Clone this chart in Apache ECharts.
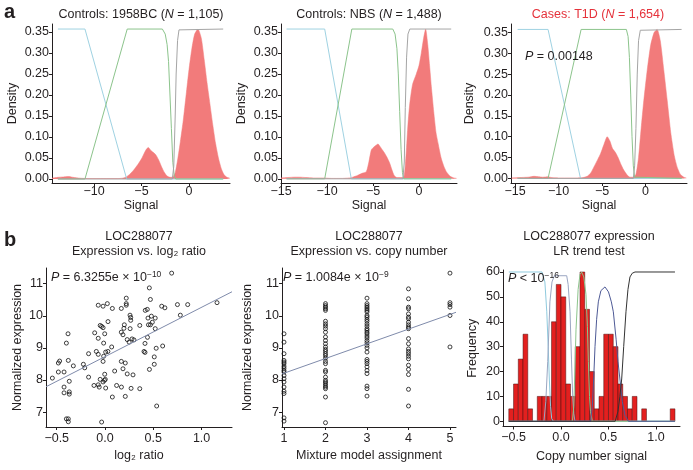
<!DOCTYPE html>
<html><head><meta charset="utf-8">
<script src="https://cdn.jsdelivr.net/npm/echarts@6/dist/echarts.min.js"></script>
<style>html,body{margin:0;padding:0;background:#fff}#c{width:693px;height:470px}</style>
</head><body><div id="c"></div>
<script>
// ---------- Panel a: density of signal + posterior curves ----------
const densA1 = [[-14.4,0.002],[-13.8,0.004],[-13.2,0.005],[-12.7,0.006],[-12.2,0.004],[-11.5,0.002],[-10.5,0.001],[-9,0.001],[-7.5,0.001],[-7,0.002],[-6.6,0.005],[-6.2,0.012],[-5.8,0.022],[-5.4,0.034],[-5.0,0.048],[-4.7,0.062],[-4.45,0.072],[-4.28,0.075],[-4.05,0.069],[-3.8,0.064],[-3.5,0.058],[-3.2,0.046],[-2.9,0.03],[-2.6,0.016],[-2.3,0.007],[-2.0,0.004],[-1.7,0.005],[-1.45,0.015],[-1.2,0.045],[-0.9,0.09],[-0.6,0.14],[-0.3,0.2],[0.0,0.26],[0.3,0.31],[0.6,0.345],[0.95,0.357],[1.3,0.335],[1.6,0.285],[1.9,0.23],[2.2,0.18],[2.5,0.13],[2.8,0.085],[3.1,0.05],[3.4,0.025],[3.7,0.01],[4.0,0.004],[4.3,0.002]];
const blueA1 = [[-13.8,0.357],[-10.95,0.357],[-6.56,0],[3.6,0]];
const greenA1 = [[-13.8,0],[-10.95,0],[-6.5,0.357],[-2.8,0.357],[-2.5,0.345],[-2.3,0.32],[-2.15,0.28],[-2.0,0.2],[-1.85,0.12],[-1.7,0.04],[-1.55,0.008],[-1.4,0],[3.6,0]];
const greyA1 = [[-13.8,0],[-1.75,0],[-1.6,0.03],[-1.45,0.15],[-1.35,0.25],[-1.2,0.33],[-1.05,0.355],[-0.9,0.357],[3.6,0.357]];

const densA2 = [[-15,0.002],[-14.3,0.003],[-13.5,0.004],[-13,0.004],[-12.3,0.003],[-11.5,0.002],[-10.5,0.002],[-9.5,0.001],[-8.5,0.001],[-7.6,0.002],[-7.2,0.004],[-6.7,0.008],[-6.2,0.013],[-5.73,0.017],[-5.45,0.04],[-5.18,0.069],[-4.9,0.076],[-4.6,0.081],[-4.46,0.083],[-4.2,0.076],[-3.95,0.068],[-3.73,0.061],[-3.45,0.05],[-3.18,0.037],[-2.95,0.022],[-2.7,0.008],[-2.4,0.003],[-2.0,0.003],[-1.63,0.005],[-1.4,0.06],[-1.2,0.13],[-1.0,0.18],[-0.7,0.225],[-0.29,0.25],[0,0.27],[0.25,0.30],[0.5,0.335],[0.72,0.357],[0.95,0.32],[1.15,0.27],[1.34,0.22],[1.6,0.16],[1.85,0.11],[2.07,0.085],[2.4,0.05],[2.7,0.03],[2.97,0.017],[3.4,0.006],[3.8,0.002],[4.1,0.001]];
const blueA2 = [[-14.4,0.357],[-10.25,0.357],[-7.36,0],[3.5,0]];
const greenA2 = [[-14.4,0],[-10.25,0],[-7.3,0.357],[-2.85,0.357],[-2.6,0.345],[-2.4,0.31],[-2.25,0.25],[-2.1,0.16],[-1.95,0.07],[-1.8,0.015],[-1.65,0],[3.5,0]];
const greyA2 = [[-14.4,0],[-1.75,0],[-1.6,0.04],[-1.49,0.17],[-1.35,0.29],[-1.2,0.345],[-1.0,0.357],[3.5,0.357]];

const densA3 = [[-15.4,0.001],[-14.5,0.002],[-13.5,0.003],[-12.8,0.005],[-12.3,0.004],[-11.8,0.003],[-11.2,0.004],[-10.8,0.002],[-10,0.001],[-8,0.001],[-7.2,0.002],[-6.7,0.005],[-6.3,0.013],[-5.94,0.027],[-5.5,0.045],[-5.17,0.059],[-4.8,0.08],[-4.4,0.10],[-4.1,0.09],[-3.8,0.072],[-3.45,0.062],[-3.15,0.05],[-2.87,0.036],[-2.5,0.02],[-2.1,0.008],[-1.8,0.003],[-1.4,0.003],[-1.1,0.01],[-0.8,0.05],[-0.5,0.12],[-0.2,0.186],[0.2,0.26],[0.6,0.32],[1.0,0.35],[1.34,0.357],[1.7,0.33],[2.1,0.26],[2.5,0.186],[2.9,0.11],[3.3,0.055],[3.64,0.027],[4.0,0.01],[4.4,0.003],[4.7,0.001]];
const blueA3 = [[-14.7,0.357],[-11.2,0.357],[-7.47,0],[4.15,0]];
const greenA3 = [[-14.7,0],[-11.2,0],[-7.4,0.357],[-2.2,0.357],[-2.0,0.34],[-1.85,0.29],[-1.7,0.2],[-1.55,0.1],[-1.4,0.03],[-1.25,0.003],[-1.1,0],[4.15,0]];
const greyA3 = [[-14.7,0],[-1.4,0],[-1.25,0.03],[-1.1,0.12],[-0.95,0.25],[-0.8,0.33],[-0.6,0.355],[-0.4,0.357],[4.15,0.357]];

const titlesA = ['Controls: 1958BC ({i|N} = 1,105)', 'Controls: NBS ({i|N} = 1,488)', 'Cases: T1D ({i|N} = 1,654)'];
const pA3 = '{i|P} = 0.00148';
const ticksAX1 = [-10, -5, 0];
const ticksAX23 = [-15, -10, -5, 0];
const ticksAY = [0, 0.05, 0.10, 0.15, 0.20, 0.25, 0.30, 0.35];

// ---------- Panel b1: expression vs log2 ratio ----------
const b1Points = [[-0.545,8.06],[-0.483,8.53],[-0.47,8.59],[-0.483,8.25],[-0.424,8.25],[-0.424,7.78],[-0.424,7.6],[-0.40,9.15],[-0.383,9.44],[-0.38,8.61],[-0.37,7.96],[-0.37,7.63],[-0.37,7.56],[-0.40,6.79],[-0.38,6.79],[-0.38,6.7],[-0.328,8.44],[-0.224,8.49],[-0.21,8.38],[-0.17,8.82],[-0.17,8.09],[-0.07,10.33],[-0.02,10.3],[0.024,10.38],[0.076,10.23],[0.169,10.23],[0.22,10.55],[0.22,10.38],[0.22,10.33],[0.259,10.02],[0.266,9.95],[0.266,9.86],[-0.107,9.47],[-0.05,9.7],[-0.035,9.67],[-0.02,9.63],[-0.003,9.44],[0.031,9.82],[-0.07,9.3],[-0.014,9.15],[-0.09,8.89],[-0.07,8.8],[0.007,8.87],[0.03,8.89],[-0.014,8.74],[0.069,9.03],[-0.02,8.58],[-0.05,8.02],[-0.114,7.83],[-0.07,7.85],[-0.06,7.78],[-0.02,7.94],[-0.006,7.99],[0.003,8.02],[0.007,7.75],[-0.003,8.18],[0.076,7.47],[0.10,8.28],[-0.035,6.69],[0.169,9.49],[0.186,9.41],[0.20,9.72],[0.196,9.61],[0.23,9.26],[0.25,9.18],[0.28,9.28],[0.26,9.6],[0.3,9.25],[0.169,8.58],[0.21,8.53],[0.186,8.35],[0.23,8.19],[0.29,8.16],[0.17,7.78],[0.12,7.83],[0.21,7.49],[0.27,7.74],[0.36,7.73],[0.36,9.7],[0.69,11.33],[0.459,10.87],[0.47,10.51],[0.417,10.17],[0.438,10.2],[0.587,10.3],[0.62,10.25],[0.75,10.35],[0.856,10.35],[0.78,10.02],[1.16,10.41],[0.445,9.93],[0.48,9.99],[0.52,9.93],[0.45,9.72],[0.47,9.72],[0.49,9.8],[0.52,9.6],[0.44,9.33],[0.414,9.14],[0.414,8.86],[0.404,8.89],[0.53,8.99],[0.597,9.06],[0.51,8.72],[0.51,8.49],[0.46,8.33],[0.535,7.19]];
const b1Fit = [[-0.611,7.79],[1.315,10.75]];

// ---------- Panel b2: expression vs copy number ----------
const b2Col1 = [9.44,9.18,8.82,8.61,8.56,8.51,8.43,8.37,8.30,8.25,8.14,8.04,7.94,7.78,7.65,7.58,6.82,6.72];
const b2Col2 = [10.38,10.32,10.27,10.22,10.17,9.83,9.75,9.68,9.6,9.49,9.34,9.23,9.13,9.03,8.95,8.89,8.82,8.76,8.68,8.58,8.51,8.30,8.25,8.09,7.99,7.94,7.89,7.83,7.78,7.73,7.47,6.67];
const b2Col3 = [10.55,10.38,10.32,10.27,10.22,10.17,10.12,10.01,9.96,9.89,9.83,9.75,9.68,9.6,9.55,9.49,9.44,9.37,9.31,9.23,9.16,9.08,9.0,8.87,8.64,8.58,8.51,8.41,8.30,8.20,7.81,7.73,7.50];
const b2Col4 = [10.84,10.53,10.27,10.22,10.06,9.96,9.91,9.8,9.72,9.65,9.6,9.29,9.13,8.97,8.89,8.82,8.74,8.66,8.46,8.33,8.17,7.71,7.19];
const b2Col5 = [11.33,10.41,10.35,10.27,10.01,9.03];
const b2Fit = [[0.952,8.19],[5.145,10.11]];

// ---------- Panel b3: histogram + posterior curves ----------
const histStart = [-0.55,-0.5,-0.45,-0.4,-0.35,-0.3,-0.25,-0.2,-0.15,-0.1,-0.05,0,0.05,0.1,0.15,0.2,0.25,0.3,0.35,0.4,0.45,0.5,0.55,0.6,0.65,0.7,0.75,0.8,0.85,0.9,0.95,1.0,1.05,1.1,1.15];
const histFreq  = [5,15,25,35,5,0,10,10,10,40,55,50,15,10,30,60,45,20,5,10,35,35,30,15,10,5,10,0,5,0,0,0,0,0,5];
const binW = 0.05;
const cnC1 = [[-0.55,60],[-0.2,60],[-0.17,56],[-0.15,44],[-0.135,30],[-0.123,17],[-0.11,6],[-0.098,1],[-0.08,0],[1.2,0]];
const cnC2 = [[-0.55,0],[-0.18,0],[-0.16,8],[-0.14,24],[-0.117,48],[-0.095,56],[-0.07,58.5],[0.06,58.5],[0.075,55],[0.095,44],[0.11,25],[0.123,10],[0.135,3],[0.147,0],[1.2,0]];
const cnC3 = [[-0.55,0],[0.12,0],[0.135,6],[0.158,37],[0.18,53],[0.2,59],[0.217,60],[0.24,58],[0.263,51],[0.278,38],[0.288,24],[0.3,10],[0.31,4],[0.33,0],[1.2,0]];
const cnC4 = [[-0.55,0],[0.31,0],[0.33,6],[0.345,18],[0.358,30],[0.375,41],[0.393,48],[0.42,52.5],[0.463,54],[0.5,52],[0.53,48],[0.551,44],[0.58,33],[0.6,24],[0.62,17],[0.645,8],[0.674,2.4],[0.71,0],[1.2,0]];
const cnC5 = [[-0.55,0],[0.57,0],[0.6,4],[0.62,10],[0.639,17],[0.66,30],[0.684,44],[0.705,53],[0.726,58],[0.75,59.5],[0.779,60],[1.2,60]];

const ticksB1X = [-0.5, 0, 0.5, 1.0];
const ticksBY = [7, 8, 9, 10, 11];
const ticksB2X = [1, 2, 3, 4, 5];
const ticksB3X = [-0.5, 0, 0.5, 1.0];
const ticksB3Y = [0, 10, 20, 30, 40, 50, 60];

// ---------- build ----------
const FONT = '"Liberation Sans", Arial, Helvetica, sans-serif';
const INK = '#231f20';
const TICKFS = 12.5;
const chart = echarts.init(document.getElementById('c'));

function fmt(dec) {
  return v => (v < -1e-9 ? '\u2212' : '') + Math.abs(v).toFixed(dec);
}
function axis(gi, min, max, ticks, dec, name, nameGap, margin) {
  return {
    type: 'value', gridIndex: gi, min: min, max: max,
    axisLine: { show: true, onZero: false, lineStyle: { color: INK, width: 1 } },
    axisTick: { show: true, length: 3, customValues: ticks, lineStyle: { color: INK, width: 1 } },
    axisLabel: { customValues: ticks, formatter: fmt(dec), margin: margin, fontSize: TICKFS, color: INK, fontFamily: FONT },
    splitLine: { show: false },
    name: name, nameLocation: 'middle', nameGap: nameGap,
    nameTextStyle: { fontSize: 12.5, color: INK, fontFamily: FONT }
  };
}

const grids = [
  { left: 52, top: 24, width: 178, height: 159 },
  { left: 281, top: 24, width: 176, height: 159 },
  { left: 511, top: 24, width: 176, height: 159 },
  { left: 46, top: 268, width: 186, height: 159 },
  { left: 282, top: 268, width: 174, height: 159 },
  { left: 503, top: 270, width: 177, height: 156.5 }
];

const xAxes = [
  axis(0, -14.42, 4.32, ticksAX1, 0, 'Signal', 12, 2),
  axis(1, -15.0, 4.13, ticksAX23, 0, 'Signal', 12, 2),
  axis(2, -15.46, 4.77, ticksAX23, 0, 'Signal', 12, 2),
  axis(3, -0.611, 1.315, ticksB1X, 1, 'log\u2082 ratio', 22, 5),
  axis(4, 0.952, 5.145, ticksB2X, 0, 'Mixture model assignment', 22, 5),
  axis(5, -0.611, 1.253, ticksB3X, 1, 'Copy number signal', 24, 5)
];
const yAxes = [
  axis(0, -0.0095, 0.369, ticksAY, 2, 'Density', 33, 3),
  axis(1, -0.010, 0.369, ticksAY, 2, 'Density', 33, 3),
  axis(2, -0.011, 0.370, ticksAY, 2, 'Density', 35, 3),
  axis(3, 6.536, 11.49, ticksBY, 0, 'Normalized expression', 22, 3),
  axis(4, 6.536, 11.49, ticksBY, 0, 'Normalized expression', 28, 3),
  axis(5, -2.09, 60.8, ticksB3Y, 0, 'Frequency', 24, 3)
];

const series = [];
function line(idx, data, color, width, z) {
  series.push({ type: 'line', xAxisIndex: idx, yAxisIndex: idx, data: data, showSymbol: false, symbol: 'none',
    lineStyle: { color: color, width: width || 1 }, z: z || 3, silent: true, animation: false });
}
function dens(idx, data) {
  series.push({ type: 'line', xAxisIndex: idx, yAxisIndex: idx, data: data, showSymbol: false, symbol: 'none', smooth: 0.2,
    lineStyle: { color: '#f27b7b', width: 0.5 }, areaStyle: { color: '#f27b7b', opacity: 1, origin: 'auto' }, z: 2, silent: true, animation: false });
}
const BLUE = '#9fd2e2', GREEN = '#8cc48c', GREY = '#a5a5a5';
dens(0, densA1); line(0, blueA1, BLUE); line(0, greenA1, GREEN); line(0, greyA1, GREY);
dens(1, densA2); line(1, blueA2, BLUE); line(1, greenA2, GREEN); line(1, greyA2, GREY);
dens(2, densA3); line(2, blueA3, BLUE); line(2, greenA3, GREEN); line(2, greyA3, GREY);

const scatStyle = { color: 'rgba(255,255,255,0)', borderColor: '#111', borderWidth: 1 };
series.push({ type: 'scatter', xAxisIndex: 3, yAxisIndex: 3, data: b1Points, symbolSize: 4, itemStyle: scatStyle, z: 3, animation: false });
line(3, b1Fit, '#7f8bab', 1, 4);
const b2Points = [];
[b2Col1, b2Col2, b2Col3, b2Col4, b2Col5].forEach((col, k) => col.forEach(v => b2Points.push([k + 1, v])));
series.push({ type: 'scatter', xAxisIndex: 4, yAxisIndex: 4, data: b2Points, symbolSize: 4, itemStyle: scatStyle, z: 3, animation: false });
line(4, b2Fit, '#7f8bab', 1, 4);

const histData = [];
histStart.forEach((s, i) => { if (histFreq[i] > 0) histData.push([s, histFreq[i]]); });
series.push({
  type: 'custom', xAxisIndex: 5, yAxisIndex: 5, data: histData, encode: { x: 0, y: 1 }, z: 2, animation: false,
  renderItem: function (params, api) {
    const s = api.value(0), f = api.value(1);
    const p0 = api.coord([s, f]);
    const p1 = api.coord([s + binW, 0]);
    return { type: 'rect', shape: { x: p0[0], y: p0[1], width: p1[0] - p0[0], height: p1[1] - p0[1] },
      style: { fill: '#e3201f', stroke: '#4a1010', lineWidth: 0.5 } };
  }
});
line(5, cnC1, '#8fcade'); line(5, cnC2, '#9aa6c2'); line(5, cnC3, '#8cc58c'); line(5, cnC4, '#4e5a96'); line(5, cnC5, '#333333');

const richBase = { i: { fontStyle: 'italic', fontSize: 12.5, fontFamily: FONT, fill: INK },
  sup: { fontSize: 8.5, verticalAlign: 'top', fontFamily: FONT, fill: INK, lineHeight: 16 } };
function txt(x, y, text, opts) {
  opts = opts || {};
  return { type: 'text', x: x, y: y, silent: true, z: 100,
    style: { text: text, font: (opts.weight || 'normal') + ' ' + (opts.size || 12.5) + 'px ' + FONT,
      fill: opts.color || INK, align: opts.align || 'center', verticalAlign: 'middle', lineHeight: 16,
      rich: opts.rich || richBase } };
}
const redRich = { i: { fontStyle: 'italic', fontSize: 12.5, fontFamily: FONT, fill: '#e5323b' } };
const graphics = [
  txt(4, 12, 'a', { weight: 'bold', size: 20, align: 'left' }),
  txt(4, 240, 'b', { weight: 'bold', size: 20, align: 'left' }),
  txt(141, 15, titlesA[0]),
  txt(369, 15, titlesA[1]),
  txt(598, 15, titlesA[2], { color: '#e5323b', rich: redRich }),
  txt(525, 57, pA3, { align: 'left' }),
  txt(139, 237, 'LOC288077'),
  txt(139, 252, 'Expression vs. log\u2082 ratio'),
  txt(369, 237, 'LOC288077'),
  txt(369, 252, 'Expression vs. copy number'),
  txt(589, 237, 'LOC288077 expression'),
  txt(589, 252, 'LR trend test'),
  txt(51, 278, '{i|P} = 6.3255e \u00d7 10{sup|\u221210}', { align: 'left' }),
  txt(283, 278, '{i|P} = 1.0084e \u00d7 10{sup|\u22129}', { align: 'left' }),
  txt(508, 279, '{i|P} < 10{sup|\u221216}', { align: 'left' })
];

chart.setOption({
  animation: false,
  backgroundColor: '#ffffff',
  grid: grids,
  xAxis: xAxes,
  yAxis: yAxes,
  series: series,
  graphic: graphics
});
</script></body></html>
